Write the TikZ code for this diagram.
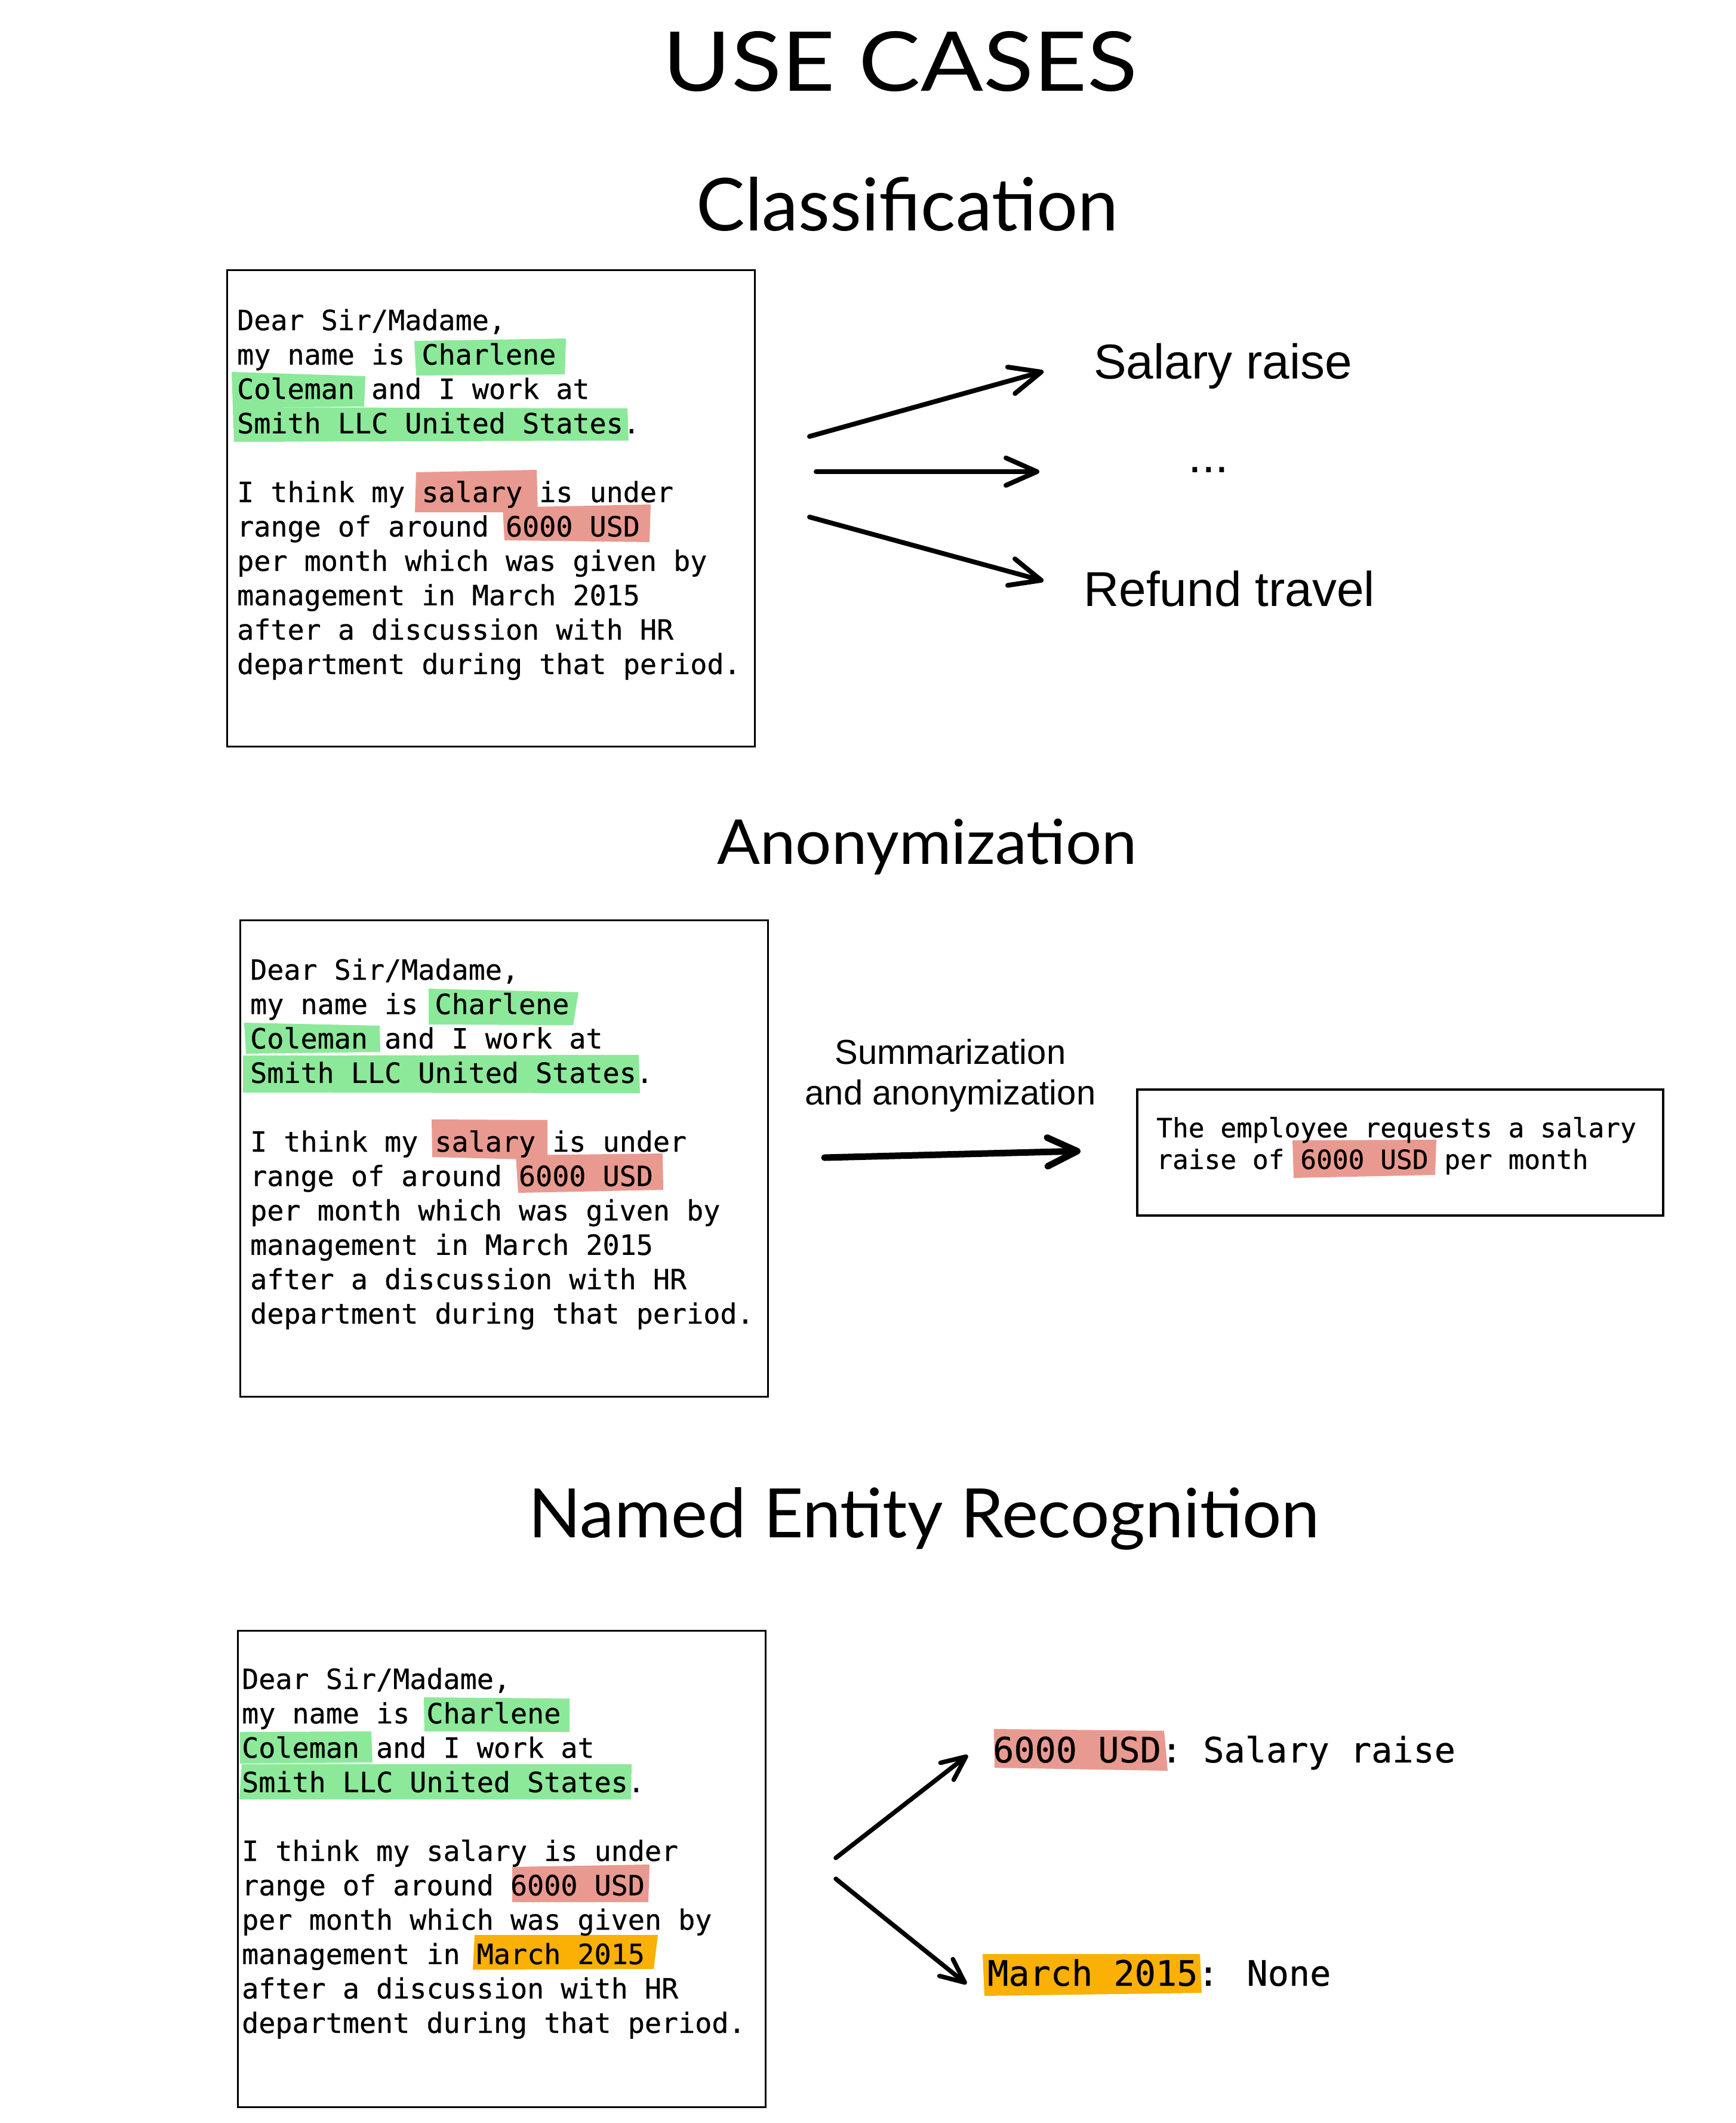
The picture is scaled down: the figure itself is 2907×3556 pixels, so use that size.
\documentclass[tikz,border=0pt]{standalone}
\usepackage{fontspec}
\usepackage{graphicx}
\usetikzlibrary{arrows.meta}
\newfontfamily\monofont[FakeBold=0.5]{DejaVu Sans Mono}
\newfontfamily\labelfont{Liberation Sans}
\newfontfamily\handfont{Lato}
\definecolor{hlgreen}{HTML}{8CE99A}
\definecolor{hlred}{HTML}{E99A90}
\definecolor{hlorange}{HTML}{FAB005}
\tikzset{
  lettertext/.style={anchor=base west, inner sep=0pt, font=\monofont\fontsize{46.7}{57.6}\selectfont},
  sumtext/.style={anchor=base west, inner sep=0pt, font=\monofont\fontsize{44.5}{55}\selectfont},
  nertext/.style={anchor=base west, inner sep=0pt, font=\monofont\fontsize{58.5}{70}\selectfont},
  biglabel/.style={anchor=base west, inner sep=0pt, font=\labelfont\fontsize{82}{98}\selectfont},
  midlabel/.style={anchor=base, inner sep=0pt, align=center, font=\labelfont\fontsize{58}{68}\selectfont},
  titletext/.style={anchor=base, inner sep=0pt, font=\handfont},
  letterbox/.style={draw=black, line width=3pt, anchor=north west, inner sep=0pt, minimum width=884pt, minimum height=798pt},
  sumbox/.style={draw=black, line width=3.5pt, anchor=north west, inner sep=0pt, minimum width=881pt, minimum height=211pt},
  arrowline/.style={line width=8pt, line cap=round, line join=round, -{Straight Barb[length=52pt,width=46pt,round]}},
  bigarrow/.style={line width=11pt, line cap=round, line join=round, -{Straight Barb[length=50pt,width=48pt,round]}},
  nerarrow/.style={line width=7.5pt, line cap=round, line join=round, -{Straight Barb[length=40pt,width=36pt,round]}},
}
\newcommand\letterlines[3]{%
  \node[lettertext] (#1l1) at (#2,{#3}) {Dear Sir/Madame,};
  \node[lettertext] (#1l2) at (#2,{#3+57.6}) {my name is Charlene};
  \node[lettertext] (#1l3) at (#2,{#3+115.2}) {Coleman and I work at};
  \node[lettertext] (#1l4) at (#2,{#3+172.8}) {Smith LLC United States.};
  \node[lettertext] (#1l5) at (#2,{#3+288}) {I think my salary is under};
  \node[lettertext] (#1l6) at (#2,{#3+345.6}) {range of around 6000 USD};
  \node[lettertext] (#1l7) at (#2,{#3+403.2}) {per month which was given by};
  \node[lettertext] (#1l8) at (#2,{#3+460.8}) {management in March 2015};
  \node[lettertext] (#1l9) at (#2,{#3+518.4}) {after a discussion with HR};
  \node[lettertext] (#1l10) at (#2,{#3+576}) {department during that period.};
}
\begin{document}
\begin{tikzpicture}[x=1pt,y=-1pt]
\useasboundingbox (0,0) rectangle (2907,3556);
\fill[white] (0,0) rectangle (2907,3556);

% Titles
\node[titletext] (title) at (1508,153) {\resizebox{794pt}{100pt}{USE CASES}};
\node[titletext] (tclass) at (1520,386) {\resizebox{707pt}{90pt}{Classification}};
\node[titletext] (tanon) at (1553,1447) {\resizebox{703pt}{76pt}{Anonymization}};
\node[titletext] (tner) at (1548,2575) {\resizebox{1324pt}{84pt}{Named Entity Recognition}};

% ---------- Classification ----------
\node[letterbox] (box1) at (379,451) {};
\fill[hlgreen] (694,571) -- (948,567) -- (946,627) -- (697,629) -- cycle;
\fill[hlgreen] (388,623) -- (612,630) -- (610,681) -- (390,683) -- cycle;
\fill[hlgreen] (390,682) -- (1051,684) -- (1053,738) -- (392,740) -- cycle;
\fill[hlred] (697,791) -- (899,787) -- (901,858) -- (695,858) -- cycle;
\fill[hlred] (842,850) -- (1090,845) -- (1088,908) -- (845,905) -- cycle;
\letterlines{a}{397}{553}

\node[biglabel] (salary) at (1832,634) {Salary raise};
\node[biglabel] (dots) at (1990,791) {...};
\node[biglabel] (refund) at (1815,1015) {Refund travel};
\coordinate (c1s) at (1356,731); \coordinate (c1e) at (1748,622);
\coordinate (c2s) at (1367,790); \coordinate (c2e) at (1741,790);
\coordinate (c3s) at (1356,866); \coordinate (c3e) at (1748,973);
\draw[arrowline] (c1s) -- (c1e);
\draw[arrowline] (c2s) -- (c2e);
\draw[arrowline] (c3s) -- (c3e);

% ---------- Anonymization ----------
\node[letterbox] (box2) at (401,1540) {};
\fill[hlgreen] (718,1656) -- (969,1662) -- (960,1717) -- (718,1716) -- cycle;
\fill[hlgreen] (409,1713) -- (636,1718) -- (637,1762) -- (412,1765) -- cycle;
\fill[hlgreen] (407,1768) -- (1070,1767) -- (1072,1831) -- (407,1830) -- cycle;
\fill[hlred] (723,1875) -- (917,1876) -- (917,1943) -- (724,1938) -- cycle;
\fill[hlred] (864,1935) -- (1110,1932) -- (1111,1993) -- (868,1998) -- cycle;
\letterlines{b}{419}{1641}

\node[midlabel] (sumlabel) at (1592,1850) {Summarization\\and anonymization};
\coordinate (c4s) at (1381,1939); \coordinate (c4e) at (1810,1928);
\draw[bigarrow] (c4s) -- (c4e);

\node[sumbox] (box4) at (1903,1823) {};
\fill[hlred] (2165,1910) -- (2406,1909) -- (2404,1968) -- (2167,1973) -- cycle;
\node[sumtext] (s1) at (1937,1905) {The employee requests a salary};
\node[sumtext] (s2) at (1937,1958) {raise of 6000 USD per month};

% ---------- NER ----------
\node[letterbox] (box3) at (397,2730) {};
\fill[hlgreen] (710,2843) -- (954,2845) -- (954,2901) -- (711,2900) -- cycle;
\fill[hlgreen] (402,2901) -- (622,2900) -- (624,2952) -- (402,2954) -- cycle;
\fill[hlgreen] (405,2955) -- (1058,2955) -- (1057,3014) -- (401,3014) -- cycle;
\fill[hlred] (858,3127) -- (1088,3123) -- (1086,3186) -- (858,3186) -- cycle;
\fill[hlorange] (795,3241) -- (1102,3241) -- (1095,3298) -- (792,3299) -- cycle;
\letterlines{c}{405}{2829}

\fill[hlred] (1665,2896) -- (1950,2899) -- (1956,2966) -- (1666,2961) -- cycle;
\node[nertext] (ner1) at (1663,2952) {6000 USD: Salary raise};
\fill[hlorange] (1646,3273) -- (2010,3273) -- (2013,3338) -- (1649,3343) -- cycle;
\node[nertext] (ner2) at (1654,3326) {March 2015: None};
\coordinate (c5s) at (1400,3112); \coordinate (c5e) at (1621,2940);
\coordinate (c6s) at (1400,3147); \coordinate (c6e) at (1619,3323);
\draw[nerarrow] (c5s) -- (c5e);
\draw[nerarrow] (c6s) -- (c6e);
\end{tikzpicture}
\end{document}
